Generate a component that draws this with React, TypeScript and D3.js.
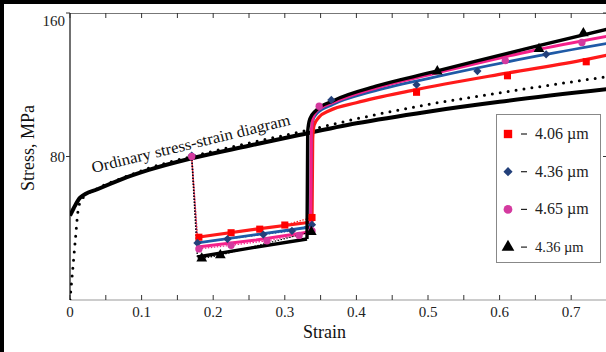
import React from "react";
import * as d3 from "d3";

type P = [number, number];

const strainTicks = [0, 0.1, 0.2, 0.3, 0.4, 0.5, 0.6, 0.7];
const minorStrainTicks = [0, 0.05, 0.1, 0.15, 0.2, 0.25, 0.3, 0.35, 0.4, 0.45, 0.5, 0.55, 0.6, 0.65, 0.7, 0.75];
const stressTicks = [80, 160];

// ordinary stress-strain diagram
const ordinaryLine: P[] = [
  [0, 47], [0.005, 51], [0.014, 57], [0.04, 62], [0.07, 67], [0.11, 72.5], [0.17, 79],
  [0.25, 86], [0.32, 92], [0.4, 98.5], [0.5, 105], [0.6, 110.5], [0.75, 117.5],
];
const ordinaryDots: P[] = [
  [0, 0], [0.004, 18], [0.008, 36], [0.011, 49], [0.016, 56], [0.04, 62.5], [0.07, 67.5],
  [0.11, 73.5], [0.17, 80], [0.25, 87.5], [0.33, 94.5], [0.4, 101], [0.5, 109], [0.6, 115.5], [0.75, 124.5],
];

interface Series {
  label: string;
  color: string;
  markColor: string;
  symbol: d3.SymbolType;
  rotate: number;
  width: number;
  drop: P[];
  low: P[];
  rise: P[];
  marks: P[];
}

const redDrop: P[] = [[0.17, 79.5], [0.178, 35]];
const redLow: P[] = [[0.178, 35], [0.26, 39.5], [0.338, 43.5]];
const redRise: P[] = [[0.338, 43.5], [0.339, 90], [0.341, 97.5], [0.348, 102], [0.362, 105.5], [0.4, 110], [0.48, 117], [0.61, 126.5], [0.72, 134], [0.75, 136.5]];
const redMarks: P[] = [[0.18, 35], [0.225, 37.5], [0.265, 39.5], [0.3, 41.8], [0.338, 46], [0.484, 115.8], [0.611, 125], [0.721, 132.8]];

const navyDrop: P[] = [[0.17, 80], [0.178, 31.8]];
const navyLow: P[] = [[0.178, 31.8], [0.26, 36.5], [0.336, 40.7]];
const navyRise: P[] = [[0.336, 40.7], [0.337, 92], [0.339, 100], [0.345, 104], [0.367, 109], [0.42, 116], [0.506, 124], [0.646, 135.5], [0.75, 143]];
const navyMarks: P[] = [[0.17, 80.5], [0.178, 31.8], [0.22, 34], [0.27, 36.5], [0.31, 38.5], [0.338, 42], [0.365, 111.5], [0.484, 120], [0.569, 127.6], [0.665, 137]];

const pinkDrop: P[] = [[0.17, 80], [0.178, 29.5]];
const pinkLow: P[] = [[0.178, 29.5], [0.26, 33.5], [0.336, 38]];
const pinkRise: P[] = [[0.336, 38], [0.337, 92], [0.339, 101], [0.345, 105.5], [0.367, 110], [0.43, 118.5], [0.506, 126], [0.646, 139], [0.75, 147]];
const pinkMarks: P[] = [[0.17, 80], [0.18, 28.5], [0.225, 30.5], [0.275, 33], [0.32, 36], [0.338, 38.5], [0.348, 108], [0.608, 133.5], [0.715, 143.6]];

const blackDrop: P[] = [[0.17, 80], [0.178, 24]];
const blackLow: P[] = [[0.178, 24], [0.26, 29.5], [0.331, 34]];
const blackRise: P[] = [[0.331, 34], [0.332, 94], [0.335, 101], [0.343, 105.5], [0.367, 111], [0.43, 119.5], [0.506, 127], [0.646, 141], [0.75, 151]];
const blackMarks: P[] = [[0.184, 23.2], [0.21, 25], [0.337, 38], [0.513, 127.5], [0.655, 140], [0.717, 148.8]];

const series: Series[] = [
  { label: "4.06 µm", color: "#ff1a1a", markColor: "#ff0000", symbol: d3.symbolSquare, rotate: 0, width: 3.2, drop: redDrop, low: redLow, rise: redRise, marks: redMarks },
  { label: "4.36 µm", color: "#1f5aa6", markColor: "#23407a", symbol: d3.symbolSquare, rotate: 45, width: 2.8, drop: navyDrop, low: navyLow, rise: navyRise, marks: navyMarks },
  { label: "4.65 µm", color: "#f5208a", markColor: "#d43a9f", symbol: d3.symbolCircle, rotate: 0, width: 3, drop: pinkDrop, low: pinkLow, rise: pinkRise, marks: pinkMarks },
  { label: "4.36 µm", color: "#000000", markColor: "#000000", symbol: d3.symbolTriangle, rotate: 0, width: 3.4, drop: blackDrop, low: blackLow, rise: blackRise, marks: blackMarks },
];

const W = 606;
const H = 352;
const font = "'Liberation Serif', serif";

const x = d3.scaleLinear().domain([0, 0.75]).range([70, 607]);
const y = d3.scaleLinear().domain([0, 160]).range([300, 13]);

const smooth = d3.line<P>().x(d => x(d[0])).y(d => y(d[1])).curve(d3.curveMonotoneX);
const straight = d3.line<P>().x(d => x(d[0])).y(d => y(d[1]));

const App = () => {
  const sym = (s: Series, size: number) => d3.symbol().type(s.symbol).size(size)() || "";
  const markSize = (s: Series, big: boolean) => {
    if (s.symbol === d3.symbolCircle) return big ? 60 : 42;
    if (s.rotate) return big ? 42 : 34;
    return big ? 70 : 50;
  };
  return (
    <div style={{ position: "fixed", left: 0, top: 0 }}>
      <svg width={W} height={H} style={{ display: "block", background: "#fff" }}>
        <rect x={0} y={0} width={W} height={H} fill="#fff" />
        <defs>
          <clipPath id="plot">
            <rect x={70} y={13} width={537} height={287} />
          </clipPath>
        </defs>

        {/* frame */}
        <line x1={70} x2={607} y1={13.5} y2={13.5} stroke="#777" strokeWidth={1} />
        <line x1={70} x2={607} y1={300} y2={300} stroke="#999" strokeWidth={1} />
        <line x1={70} x2={70} y1={13} y2={300} stroke="#111" strokeWidth={1.2} />
        {minorStrainTicks.map(t => (
          <g key={t}>
            <line x1={x(t)} x2={x(t)} y1={13} y2={18} stroke="#333" />
            <line x1={x(t)} x2={x(t)} y1={300} y2={295} stroke="#333" />
          </g>
        ))}
        {stressTicks.map(t => (
          <g key={t}>
            <line x1={66} x2={70} y1={y(t)} y2={y(t)} stroke="#333" />
            <line x1={603} x2={607} y1={y(t)} y2={y(t)} stroke="#333" />
            <text x={65} y={t === 160 ? 26 : y(t) + 5} textAnchor="end" fontFamily={font} fontSize={15} fill="#222">{t}</text>
          </g>
        ))}
        {strainTicks.map(t => (
          <text key={t} x={x(t)} y={317} textAnchor="middle" fontFamily={font} fontSize={15} fill="#222">{t}</text>
        ))}
        <text x={x(0.35) + 4} y={338} textAnchor="middle" fontFamily={font} fontSize={18} fill="#111">Strain</text>
        <text transform={`translate(34,148) rotate(-90)`} textAnchor="middle" fontFamily={font} fontSize={18} fill="#111">Stress, MPa</text>

        <g clipPath="url(#plot)">
          {/* ordinary */}
          <path d={smooth(ordinaryLine) || ""} fill="none" stroke="#000" strokeWidth={4} />
          <path d={smooth(ordinaryDots) || ""} fill="none" stroke="#000" strokeWidth={3} strokeLinecap="round" strokeDasharray="0 8" />

          {series.map((s, i) => (
            <g key={i}>
              <path d={straight(s.drop) || ""} fill="none" stroke={s.color} strokeWidth={1.5} strokeDasharray="1.5 1.5" />
              <path d={straight(s.marks.filter(m => m[0] > 0.175 && m[0] < 0.34)) || ""} fill="none" stroke={s.color} strokeWidth={1.2} strokeDasharray="1.5 1.5" />
              <path d={straight(s.low) || ""} fill="none" stroke={s.color} strokeWidth={s.width} />
              <path d={smooth(s.rise) || ""} fill="none" stroke={s.color} strokeWidth={s.width} />
            </g>
          ))}
          {series.map((s, i) => (
            <g key={"m" + i}>
              {s.marks.map((m, j) => (
                <path key={j} d={sym(s, markSize(s, false))} transform={`translate(${x(m[0])},${y(m[1])}) rotate(${s.rotate})`} fill={s.markColor} />
              ))}
            </g>
          ))}
        </g>

        <text transform={`translate(93,173) rotate(-13.7)`} fontFamily={font} fontSize={16} textLength={204} lengthAdjust="spacingAndGlyphs" fill="#111">Ordinary stress-strain diagram</text>

        {/* legend */}
        <rect x={496.5} y={114.5} width={104} height={148} fill="#fff" stroke="#888" />
        {series.map((s, i) => {
          const ly = 134 + i * 37.7;
          return (
            <g key={"l" + i}>
              <path d={sym(s, markSize(s, true))} transform={`translate(508,${ly}) rotate(${s.rotate})`} fill={s.markColor} />
              <line x1={521} x2={527} y1={ly} y2={ly} stroke="#222" strokeWidth={1.2} />
              <text x={535} y={ly + 5} fontFamily={font} fontSize={i === 3 ? 14.5 : 16} fill="#222">{s.label}</text>
            </g>
          );
        })}

        {/* outer border */}
        <line x1={2} x2={2} y1={0} y2={H} stroke="#000" strokeWidth={4} />
        <line x1={0} x2={W} y1={2} y2={2} stroke="#000" strokeWidth={4} />
      </svg>
    </div>
  );
};

export default App;
